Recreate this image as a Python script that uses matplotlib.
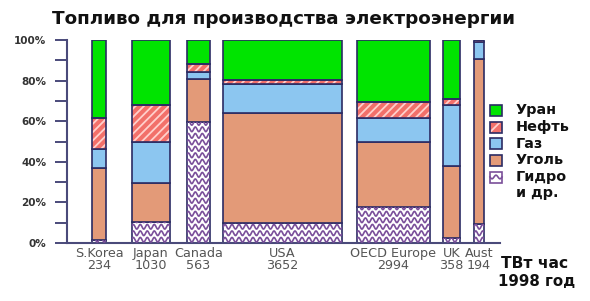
import numpy as np
import matplotlib.pyplot as plt
from matplotlib.patches import Rectangle
from matplotlib.lines import Line2D

countries = ["S.Korea", "Japan", "Canada", "USA", "OECD Europe", "UK", "Aust"]
twh = [234, 1030, 563, 3652, 2994, 358, 194]
# bar centres / widths as drawn in the original (x axis in pixel-like units)
centres = [32, 83.5, 131.3, 215.5, 326.3, 384.3, 412]
widths = [14, 38, 23.5, 118.5, 73.3, 17.3, 10]

# shares, % (bottom -> top)
hydro = [1.5, 10.5, 59.8, 9.7, 17.9, 2.3, 9.2]
coal = [35.3, 18.9, 20.8, 54.2, 32.0, 35.8, 81.4]
gas = [9.3, 20.5, 3.8, 14.3, 11.8, 29.9, 8.3]
oil = [15.3, 18.1, 3.6, 2.1, 7.6, 2.8, 1.1]
uranium = [38.6, 32.0, 12.0, 19.7, 30.7, 29.2, 0.0]

legend_labels = ["Уран", "Нефть", "Газ", "Уголь", "Гидро"]

edge = "#2b2b63"
c_green = "#00e400"
c_oil = "#f2706a"
c_oil_hatch = "#ffd0cc"
c_gas = "#8cc6f0"
c_coal = "#e39a78"
c_wave = "#7a4f9a"

plt.rcParams["font.family"] = ["DejaVu Sans"]
plt.rcParams["hatch.linewidth"] = 1.3

fig = plt.figure(figsize=(5.9, 3.01), dpi=100)
ax = fig.add_axes([67/590, 58/301, 433/590, 203/301])

x = np.array(centres)
w = np.array(widths)
bottom = np.zeros(len(x))

# hydro: white with wavy purple lines
bars = ax.bar(x, hydro, w, bottom=bottom, color="white", edgecolor=edge, lw=1.2, zorder=2)
for b in bars:
    x0, y0 = b.get_x(), b.get_y()
    bw, bh = b.get_width(), b.get_height()
    xs = np.linspace(x0, x0 + bw, 200)
    yy = y0 + 1.6
    while yy < y0 + bh + 2:
        ln, = ax.plot(xs, yy + 1.15 * np.sin(2 * np.pi * (xs - x0) / 7.0),
                      color=c_wave, lw=1.2, zorder=3)
        ln.set_clip_path(b)
        yy += 3.2
bottom += hydro

ax.bar(x, coal, w, bottom=bottom, color=c_coal, edgecolor=edge, lw=1.2, zorder=2)
bottom += coal
ax.bar(x, gas, w, bottom=bottom, color=c_gas, edgecolor=edge, lw=1.2, zorder=2)
bottom += gas
ax.bar(x, oil, w, bottom=bottom, color=c_oil, edgecolor=c_oil_hatch, lw=0, hatch="////", zorder=2)
ax.bar(x, oil, w, bottom=bottom, fill=False, edgecolor=edge, lw=1.2, zorder=4)
bottom += oil
ax.bar(x, uranium, w, bottom=bottom, color=c_green, edgecolor=edge, lw=1.2, zorder=2)

ax.set_xlim(0, 433)
ax.set_ylim(0, 100)
ax.set_yticks([0, 20, 40, 60, 80, 100])
ax.set_yticklabels(["0%", "20%", "40%", "60%", "80%", "100%"],
                   fontsize=7.5, fontweight="bold", color="#333333")
ax.set_yticks([10, 30, 50, 70, 90], minor=True)
ax.tick_params(axis="y", which="both", length=9, width=1.4, color="#4a4a7a", pad=6)
ax.set_xticks(x)
ax.set_xticklabels([f"{c}\n{v}" for c, v in zip(countries, twh)],
                   fontsize=9.2, color="#555555", linespacing=0.9)
ax.tick_params(axis="x", length=0, pad=3)
for s in ["top", "right"]:
    ax.spines[s].set_visible(False)
for s in ["left", "bottom"]:
    ax.spines[s].set_color("#4a4a7a")
    ax.spines[s].set_linewidth(1.5)

fig.text(52/590, 1 - 19/301, "Топливо для производства электроэнергии",
         fontsize=13.2, fontweight="bold", color="#111111", va="center")

# legend drawn by hand to match the tight spacing of the original
def px(xp, yp):
    return xp / 590, 1 - yp / 301

face = [c_green, c_oil, c_gas, c_coal, "white"]
rows = [110, 127, 143.5, 160, 177]
for i, (lab, fc, yc) in enumerate(zip(legend_labels, face, rows)):
    x0, y0 = px(490, yc + 5.5)
    rw, rh = 12 / 590, 11 / 301
    if i == 1:
        fig.add_artist(Rectangle((x0, y0), rw, rh, transform=fig.transFigure,
                                 facecolor=fc, edgecolor=c_oil_hatch, lw=0, hatch="///"))
        fig.add_artist(Rectangle((x0, y0), rw, rh, transform=fig.transFigure,
                                 fill=False, edgecolor=edge, lw=1.2))
    elif i == 4:
        fig.add_artist(Rectangle((x0, y0), rw, rh, transform=fig.transFigure,
                                 facecolor=fc, edgecolor=c_wave, lw=1.2))
        wx = np.linspace(490, 502, 40)
        wy = yc + 1.8 * np.sin(2 * np.pi * (wx - 490) / 8.0)
        fig.add_artist(Line2D(wx / 590, 1 - wy / 301, transform=fig.transFigure,
                              color=c_wave, lw=1.2))
    else:
        fig.add_artist(Rectangle((x0, y0), rw, rh, transform=fig.transFigure,
                                 facecolor=fc, edgecolor=edge, lw=1.2))
    tx, ty = px(516, yc)
    fig.text(tx, ty, lab, fontsize=10.4, fontweight="bold", color="#111111", va="center")
tx, ty = px(516, 193)
fig.text(tx, ty, "и др.", fontsize=10.4, fontweight="bold", color="#111111", va="center")

tx, ty = px(501, 264)
fig.text(tx, ty, "ТВт час", fontsize=11.2, fontweight="bold", color="#111111", va="center")
tx, ty = px(498, 281)
fig.text(tx, ty, "1998 год", fontsize=10.8, fontweight="bold", color="#111111", va="center")

fig.savefig("out.png", dpi=100)
